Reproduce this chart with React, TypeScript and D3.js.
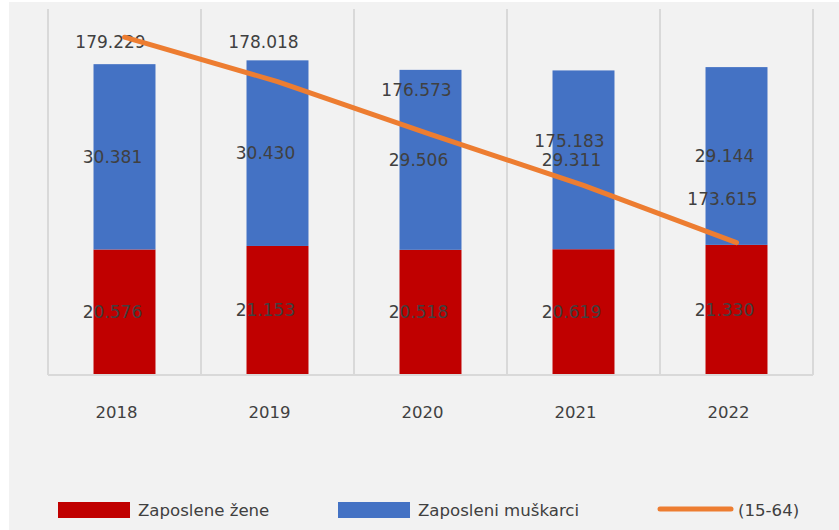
import { useEffect, useRef } from "react";
import * as d3 from "d3";

const years = ["2018", "2019", "2020", "2021", "2022"];
const women = [20.576, 21.153, 20.518, 20.619, 21.33];
const men = [30.381, 30.43, 29.506, 29.311, 29.144];
const total1564 = [179.229, 178.018, 176.573, 175.183, 173.615];

const womenLabels = ["20.576", "21.153", "20.518", "20.619", "21.330"];
const menLabels = ["30.381", "30.430", "29.506", "29.311", "29.144"];
const totalLabels = ["179.229", "178.018", "176.573", "175.183", "173.615"];

const seriesNames = ["Zaposlene žene", "Zaposleni muškarci", "(15-64)"];

export default function App() {
  const ref = useRef<SVGSVGElement>(null);

  useEffect(() => {
    const svg = d3.select(ref.current);
    svg.selectAll("*").remove();

    const width = 839;
    const height = 530;
    const font = "DejaVu Sans, sans-serif";
    const textColor = "#404040";

    svg.attr("width", width).attr("height", height);

    svg.append("rect")
      .attr("x", 9).attr("y", 2)
      .attr("width", width - 9).attr("height", height - 2)
      .attr("fill", "#f2f2f2");

    const x = d3.scaleBand().domain(years).range([48, 813]).padding(0);
    const y = d3.scaleLinear().domain([0, 60]).range([375, 9]);
    const y2 = d3.scaleLinear().domain([170, 180]).range([375, 9]);
    const barW = x.bandwidth() * 0.405;
    const cx = (d: string) => (x(d) as number) + x.bandwidth() / 2;

    // vertical gridlines at category boundaries
    const bounds = years.map(d => x(d) as number).concat([x.range()[1]]);
    svg.append("g")
      .selectAll("line")
      .data(bounds)
      .join("line")
      .attr("x1", d => d).attr("x2", d => d)
      .attr("y1", y(60)).attr("y2", y(0))
      .attr("stroke", "#d9d9d9")
      .attr("stroke-width", 2);

    // stacked bars
    const stack = years.map((yr, i) => ({ yr, w: women[i], m: men[i], i }));

    svg.append("g")
      .selectAll("rect")
      .data(stack)
      .join("rect")
      .attr("x", d => cx(d.yr) - barW / 2)
      .attr("y", d => y(d.w))
      .attr("width", barW)
      .attr("height", d => y(0) - y(d.w))
      .attr("fill", "#c00000");

    svg.append("g")
      .selectAll("rect")
      .data(stack)
      .join("rect")
      .attr("x", d => cx(d.yr) - barW / 2)
      .attr("y", d => y(d.w + d.m))
      .attr("width", barW)
      .attr("height", d => y(d.w) - y(d.w + d.m))
      .attr("fill", "#4472c4");

    // baseline
    svg.append("line")
      .attr("x1", x.range()[0]).attr("x2", x.range()[1])
      .attr("y1", y(0)).attr("y2", y(0))
      .attr("stroke", "#d9d9d9")
      .attr("stroke-width", 2);

    // category labels
    svg.append("g")
      .selectAll("text")
      .data(years)
      .join("text")
      .attr("x", d => cx(d) - 8)
      .attr("y", 412)
      .attr("dy", "0.35em")
      .attr("text-anchor", "middle")
      .attr("font-family", font)
      .attr("font-size", 16.5)
      .attr("fill", textColor)
      .text(d => d);

    // bar value labels
    const barLabels = svg.append("g")
      .attr("font-family", font)
      .attr("font-size", 17)
      .attr("fill", textColor)
      .attr("text-anchor", "middle");

    barLabels.selectAll("text.w")
      .data(stack)
      .join("text")
      .attr("class", "w")
      .attr("x", d => cx(d.yr) - 12)
      .attr("y", d => (y(0) + y(d.w)) / 2)
      .attr("dy", "0.35em")
      .text(d => womenLabels[d.i]);

    barLabels.selectAll("text.m")
      .data(stack)
      .join("text")
      .attr("class", "m")
      .attr("x", d => cx(d.yr) - 12)
      .attr("y", d => (y(d.w) + y(d.w + d.m)) / 2)
      .attr("dy", "0.35em")
      .text(d => menLabels[d.i]);

    // line on secondary axis
    const line = d3.line<number>()
      .x((_, i) => cx(years[i]))
      .y(d => y2(d));

    svg.append("path")
      .datum(total1564)
      .attr("d", line)
      .attr("fill", "none")
      .attr("stroke", "#ed7d31")
      .attr("stroke-width", 5)
      .attr("stroke-linecap", "round");

    barLabels.selectAll("text.t")
      .data(total1564)
      .join("text")
      .attr("class", "t")
      .attr("x", (_, i) => cx(years[i]) - 14)
      .attr("y", d => Math.max(y2(d) - 44, 42))
      .attr("dy", "0.35em")
      .text((_, i) => totalLabels[i]);

    // legend
    const legend = svg.append("g")
      .attr("font-family", font)
      .attr("font-size", 16.6)
      .attr("fill", textColor);

    const legendX = [58, 338, 658];
    const legendColors = ["#c00000", "#4472c4", "#ed7d31"];
    const ly = 510;

    seriesNames.forEach((name, i) => {
      if (i < 2) {
        legend.append("rect")
          .attr("x", legendX[i]).attr("y", ly - 8)
          .attr("width", 72).attr("height", 16)
          .attr("fill", legendColors[i]);
      } else {
        legend.append("line")
          .attr("x1", legendX[i] + 2).attr("x2", legendX[i] + 73)
          .attr("y1", ly - 1).attr("y2", ly - 1)
          .attr("stroke", legendColors[i])
          .attr("stroke-width", 5)
          .attr("stroke-linecap", "round");
      }
      legend.append("text")
        .attr("x", legendX[i] + 80)
        .attr("y", ly)
        .attr("dy", "0.35em")
        .text(name);
    });
  }, []);

  return (
    <svg
      ref={ref}
      style={{ position: "absolute", left: 0, top: 0, display: "block" }}
    ></svg>
  );
}
